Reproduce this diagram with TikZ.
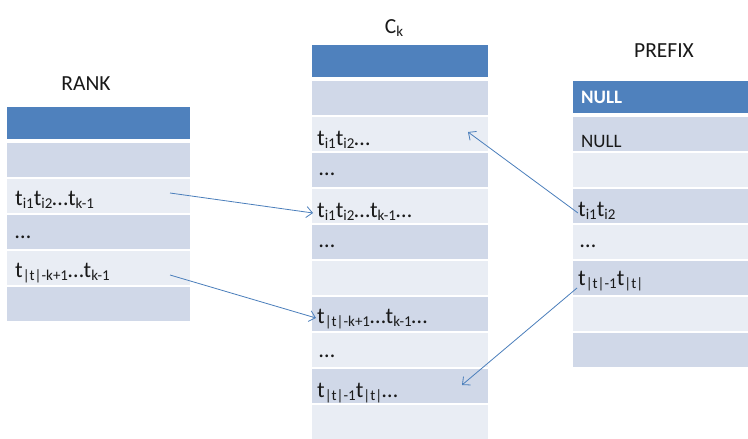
\documentclass[tikz,border=0pt]{standalone}
\usepackage{fontspec}
\setmainfont{Carlito}
\usetikzlibrary{arrows.meta,calc}
\definecolor{hdrblue}{HTML}{4F81BD}
\definecolor{banddark}{HTML}{D0D8E8}
\definecolor{bandlight}{HTML}{E9EDF4}
\definecolor{linkblue}{HTML}{4A7EBB}
% lowered, smaller subscript used inside the cell texts
\newcommand\sbs[1]{\raisebox{-3.7pt}{\fontsize{15}{17}\selectfont #1}}

\begin{document}
\begin{tikzpicture}[x=1pt,y=-1pt,
  cellbox/.style={rectangle, draw=white, line width=1.4pt, inner sep=0pt, outer sep=0pt,
                  minimum height=36pt, anchor=north west},
  hdrbox/.style={cellbox, fill=hdrblue, minimum height=34pt},
  dark/.style={cellbox, fill=banddark},
  light/.style={cellbox, fill=bandlight},
  celltext/.style={anchor=base west, inner sep=0pt, text=black!90, font=\fontsize{22.6}{26}\selectfont},
  nulltext/.style={anchor=base west, inner sep=0pt, text=black!90, font=\fontsize{19}{23}\selectfont},
  tabtitle/.style={anchor=base, inner sep=0pt, text=black!90, font=\fontsize{21.5}{26}\selectfont},
  link/.style={draw=linkblue, line width=0.8pt, -{Straight Barb[length=6pt,width=11pt]}}
]
\useasboundingbox (0,0) rectangle (748,439);
\clip (0,0) rectangle (748,439);
\fill[white] (0,0) rectangle (748,439);

% ---------- RANK ----------
\node[tabtitle] (rankT) at (86,90) {RANK};
\begin{scope}[every node/.append style={minimum width=185pt}]
  \node[hdrbox] (L0) at (6,106) {};
  \node[dark]   (L1) at (6,142) {};
  \node[light]  (L2) at (6,178) {};
  \node[dark]   (L3) at (6,214) {};
  \node[light]  (L4) at (6,250) {};
  \node[dark]   (L5) at (6,286) {};
\end{scope}
\node[celltext] (L2t) at ($(L2.north west)+(9,27)$) {t\sbs{i1}t\sbs{i2}…t\sbs{k-1}};
\node[celltext] (L3t) at ($(L3.north west)+(9,24)$) {…};
\node[celltext] (L4t) at ($(L4.north west)+(9,27)$) {t\sbs{|t|-k+1}…t\sbs{k-1}};

% ---------- C_k ----------
\node[tabtitle] (ckT) at (394,33) {C\sbs{k}};
\begin{scope}[every node/.append style={minimum width=178pt}]
  \node[hdrbox] (M0)  at (311,44)  {};
  \node[dark]   (M1)  at (311,80)  {};
  \node[light]  (M2)  at (311,116) {};
  \node[dark]   (M3)  at (311,152) {};
  \node[light]  (M4)  at (311,188) {};
  \node[dark]   (M5)  at (311,224) {};
  \node[light]  (M6)  at (311,260) {};
  \node[dark]   (M7)  at (311,296) {};
  \node[light]  (M8)  at (311,332) {};
  \node[dark]   (M9)  at (311,368) {};
  \node[light]  (M10) at (311,404) {};
\end{scope}
\node[celltext] (M2t) at ($(M2.north west)+(6,29)$) {t\sbs{i1}t\sbs{i2}…};
\node[celltext] (M3t) at ($(M3.north west)+(8,23)$) {…};
\node[celltext] (M4t) at ($(M4.north west)+(6,29)$) {t\sbs{i1}t\sbs{i2}…t\sbs{k-1}…};
\node[celltext] (M5t) at ($(M5.north west)+(8,23)$) {…};
\node[celltext] (M7t) at ($(M7.north west)+(6,27)$) {t\sbs{|t|-k+1}…t\sbs{k-1}…};
\node[celltext] (M8t) at ($(M8.north west)+(8,25)$) {…};
\node[celltext] (M9t) at ($(M9.north west)+(6,29)$) {t\sbs{|t|-1}t\sbs{|t|}…};

% ---------- PREFIX ----------
\node[tabtitle] (prefT) at (664,57) {PREFIX};
\begin{scope}[every node/.append style={minimum width=178pt}]
  \node[hdrbox] (R0) at (572,80)  {};
  \node[dark]   (R1) at (572,116) {};
  \node[light]  (R2) at (572,152) {};
  \node[dark]   (R3) at (572,188) {};
  \node[light]  (R4) at (572,224) {};
  \node[dark]   (R5) at (572,260) {};
  \node[light]  (R6) at (572,296) {};
  \node[dark]   (R7) at (572,332) {};
\end{scope}
\node[nulltext, text=white, font=\fontsize{19}{23}\selectfont\bfseries] (R0t) at ($(R0.north west)+(9,23)$) {NULL};
\node[nulltext] (R1t) at ($(R1.north west)+(9,31)$) {NULL};
\node[celltext] (R3t) at ($(R3.north west)+(6,28)$) {t\sbs{i1}t\sbs{i2}};
\node[celltext] (R4t) at ($(R4.north west)+(8,23)$) {…};
\node[celltext] (R5t) at ($(R5.north west)+(6,25)$) {t\sbs{|t|-1}t\sbs{|t|}};

% ---------- links ----------
\coordinate (a1s) at (170,193);
\coordinate (a1e) at (313,213);
\coordinate (a2s) at (170,275);
\coordinate (a2e) at (316,318);
\coordinate (a3s) at (578,213);
\coordinate (a3e) at (468,132);
\coordinate (a4s) at (577,288);
\coordinate (a4e) at (462,385);
\draw[link] (a1s) -- (a1e);
\draw[link] (a2s) -- (a2e);
\draw[link] (a3s) -- (a3e);
\draw[link] (a4s) -- (a4e);
\end{tikzpicture}
\end{document}
